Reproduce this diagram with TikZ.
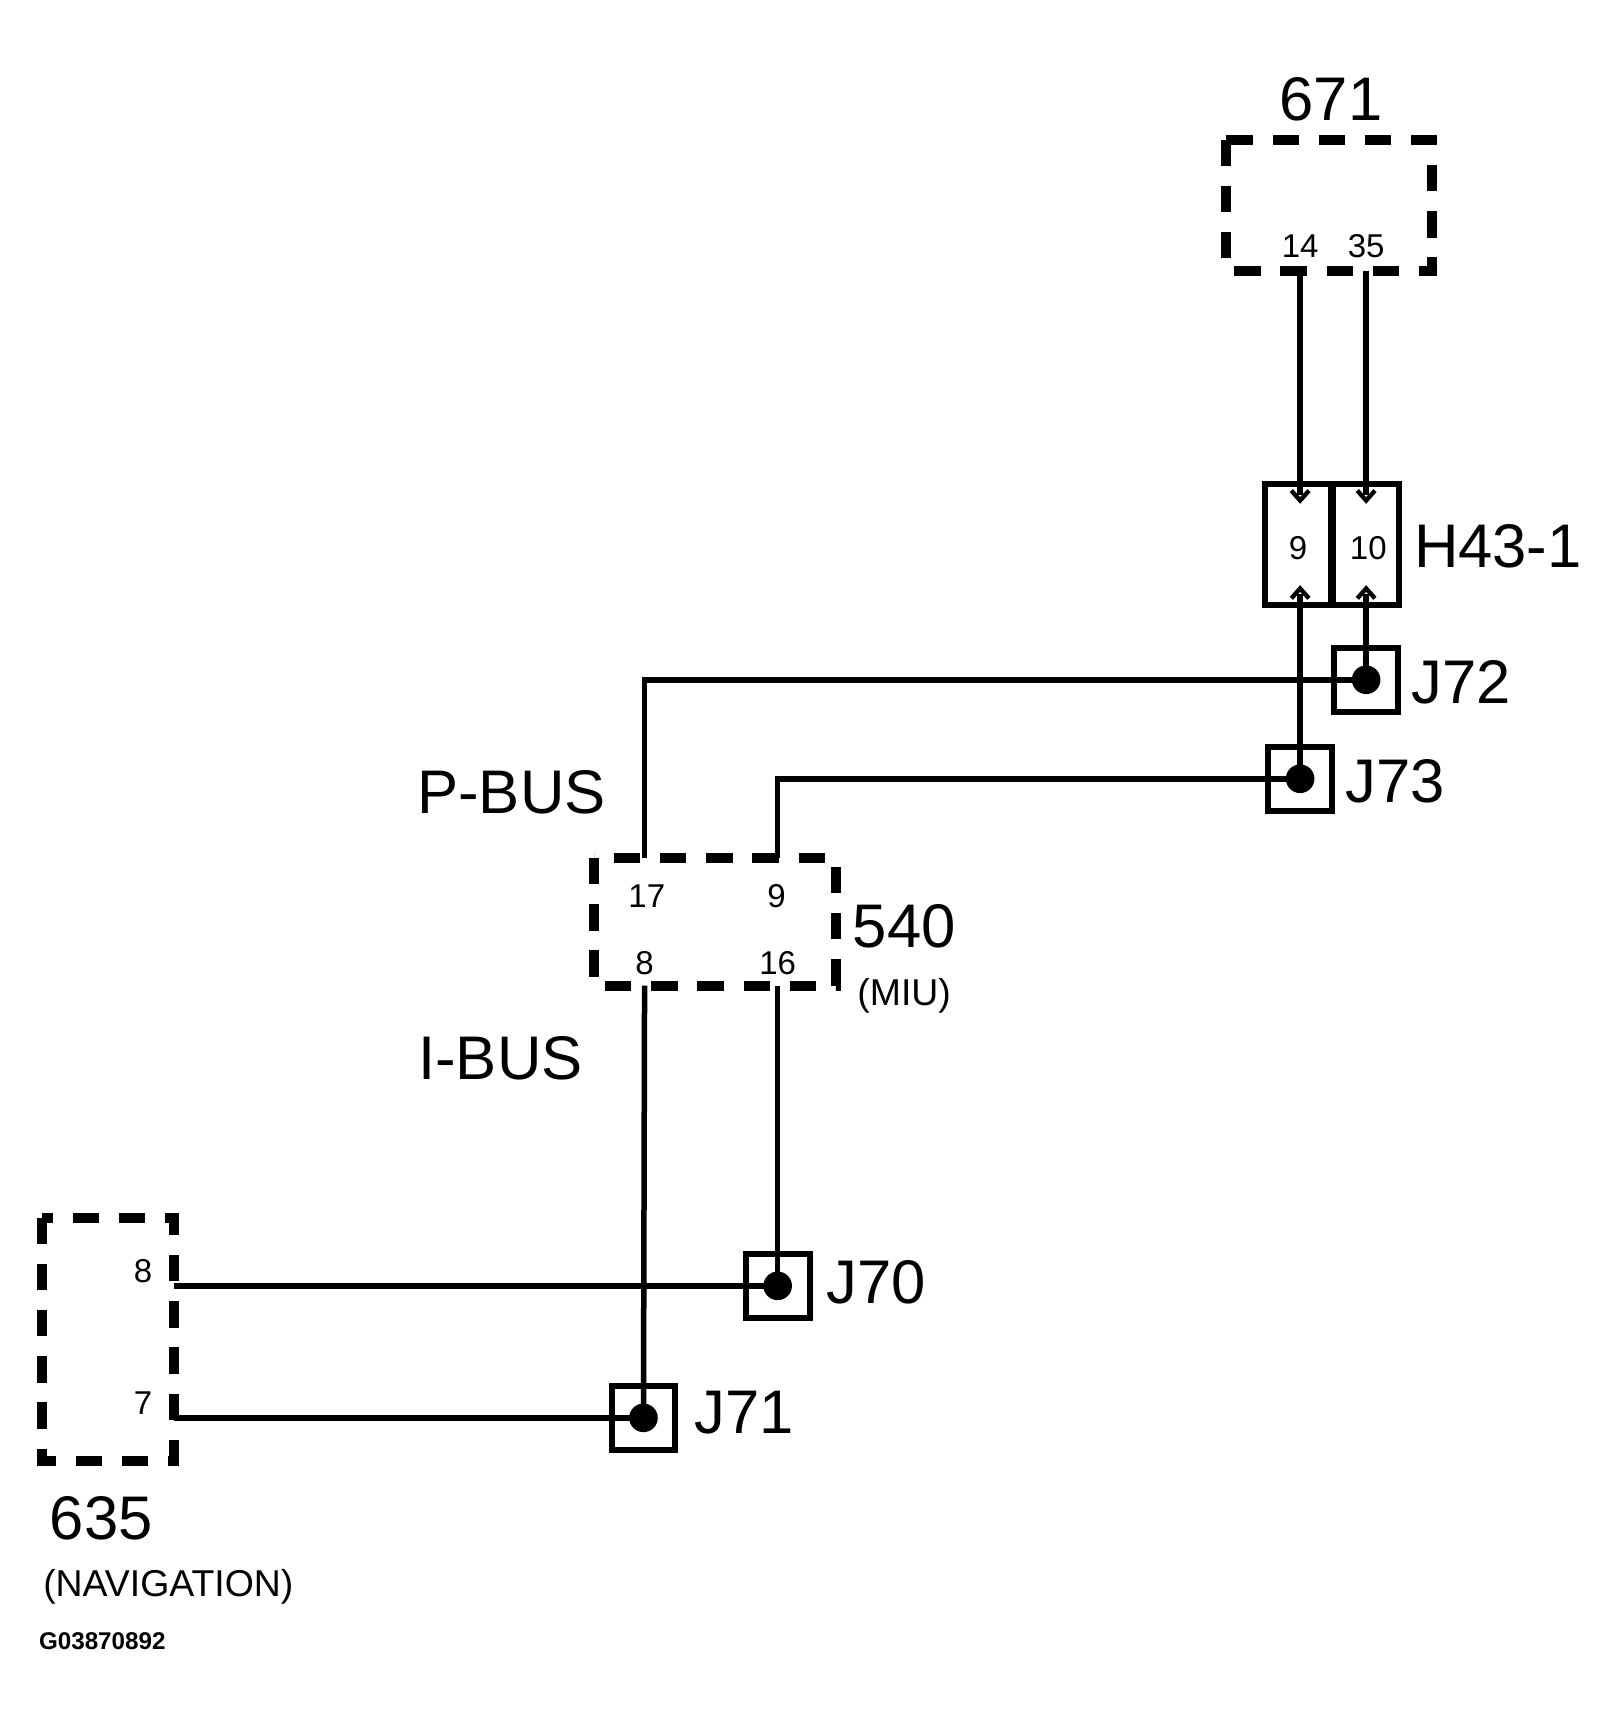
\documentclass[tikz,border=0pt]{standalone}
\usepackage{fontspec}
\setmainfont{Liberation Sans}
\begin{document}
\begin{tikzpicture}[x=1pt,y=-1pt,
 wire/.style={line width=5pt},
 dbox/.style={line width=9pt,dash pattern=on 24pt off 18pt},
 jbox/.style={line width=5.5pt,minimum size=58pt,inner sep=0pt,draw,rectangle},
 big/.style={font=\fontsize{56}{60}\selectfont},
 mid/.style={font=\fontsize{34}{38}\selectfont},
 pin/.style={font=\fontsize{30}{32}\selectfont},
 dot/.style={circle,fill,inner sep=0pt,minimum size=26pt}]
\useasboundingbox (0,0) rectangle (1470,1571);
% 671
\draw[dbox] (1115,127) rectangle (1302,246);
\node[big] (l671) at (1210,90) {671};
\node[pin] (p14) at (1182,224) {14};
\node[pin] (p35) at (1242,224) {35};
% H43-1
\draw[line width=5pt] (1150,440) rectangle (1210,550);
\draw[line width=5pt] (1212,440) rectangle (1272,550);
\node[pin] (h9) at (1180,498) {9};
\node[pin] (h10) at (1244,498) {10};
\node[big,anchor=west] (lh) at (1282,497) {H43-1};
\foreach \x in {1182,1242}{
 \draw[line width=4pt] (\x-8,446)--(\x,455)--(\x+8,446);
 \draw[line width=4pt] (\x-8,544)--(\x,535)--(\x+8,544);}
\coordinate (t14) at (1182,246); \coordinate (b14) at (1182,450);
\coordinate (t35) at (1242,246); \coordinate (b35) at (1242,450);
\draw[wire] (t14)--(b14); \draw[wire] (t35)--(b35);
% J72 J73
\node[jbox] (j72) at (1242,618) {};
\node[dot] at (j72) {};
\node[big,anchor=west] at (1280,620) {J72};
\node[jbox] (j73) at (1182,708) {};
\node[dot] at (j73) {};
\node[big,anchor=west] at (1220,710) {J73};
\coordinate (h10b) at (1242,540); \coordinate (h9b) at (1182,540);
\draw[wire] (h10b)--(j72.center);
\draw[wire] (h9b)--(j73.center);
% 540
\draw[dbox] (540,780) rectangle (760,896);
\node[pin] at (588,815) {17};
\node[pin] at (706,815) {9};
\node[pin] at (586,876) {8};
\node[pin] at (707,876) {16};
\node[big] at (822,842) {540};
\node[mid] at (822,905) {(MIU)};
\node[big] at (465,720) {P-BUS};
\node[big] at (455,962) {I-BUS};
\coordinate (p17) at (586,780); \coordinate (p9) at (707,780);
\coordinate (p8) at (586,896); \coordinate (p16) at (707,896);
\draw[wire] (j72.center) -| (p17);
\draw[wire] (j73.center) -| (p9);
% J70 J71
\node[jbox] (j70) at (707,1169) {};
\node[jbox] (j71) at (585,1289) {};
\draw[wire] (p16)--(j70.center);
\draw[wire] (p8)--(j71.center);
% 635
\draw[dbox] (38,1107) rectangle (158,1328);
\node[pin] at (130,1156) {8};
\node[pin] at (130,1276) {7};
\coordinate (n8) at (158,1169); \coordinate (n7) at (158,1289);
\draw[wire] (n8)--(j70.center);
\draw[wire] (n7)--(j71.center);
\node[dot] at (j70) {};
\node[dot] at (j71) {};
\node[big,anchor=west] at (748,1166) {J70};
\node[big,anchor=west] at (628,1284) {J71};
\node[big] at (92,1380) {635};
\node[mid] at (153,1443) {(NAVIGATION)};
\node[font=\fontsize{22}{24}\selectfont\bfseries] at (93,1492) {G03870892};
\end{tikzpicture}
\end{document}
